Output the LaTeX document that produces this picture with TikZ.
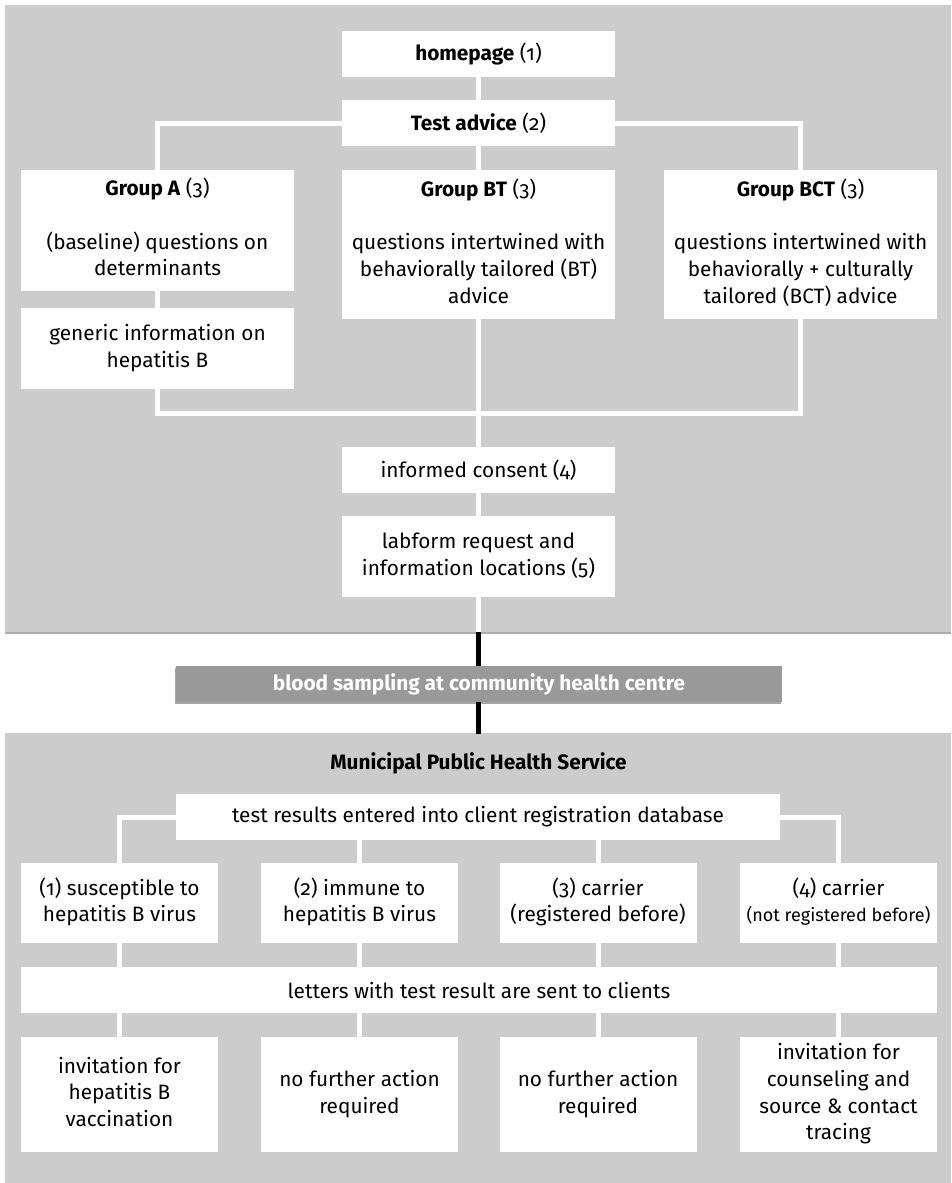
\documentclass[tikz,border=0pt]{standalone}
\usepackage{fontspec}
\setmainfont{Fira Sans}[Numbers=OldStyle]
\usetikzlibrary{shadows}
\definecolor{panelgray}{HTML}{CCCCCC}
\definecolor{bargray}{HTML}{999999}
\definecolor{shadowgray}{HTML}{ADADAD}
\tikzset{
  panel/.style={fill=panelgray, draw=none, inner sep=0pt, anchor=north west},
  box/.style={fill=white, draw=none, inner sep=0pt, align=center, text=black,
    font=\fontsize{20.8}{26.7}\selectfont},
  wline/.style={draw=white, line width=5pt},
  bline/.style={draw=black, line width=5pt},
  bar/.style={fill=bargray, draw=none, inner sep=0pt, text=white,
    font=\fontsize{20.8}{26.7}\selectfont\bfseries,
    drop shadow={shadow xshift=-1pt, shadow yshift=-1.5pt, opacity=0.35, fill=black}},
  title/.style={inner sep=0pt, font=\fontsize{20.8}{26.7}\selectfont\bfseries}
}
\begin{document}
\begin{tikzpicture}[x=1pt, y=-1pt]
\useasboundingbox (0,0) rectangle (951,1183);
\fill[white] (0,0) rectangle (951,1183);

% panels
\fill[shadowgray] (5,5) rectangle (951,634);
\node[panel, minimum width=946pt, minimum height=627pt] (toppanel) at (5,5) {};
\fill[shadowgray!60] (5,733) rectangle (951,1183);
\node[panel, minimum width=946pt, minimum height=452pt] (botpanel) at (5,734) {};

% upper nodes
\node[box, minimum width=273pt, minimum height=46pt] (home) at (478.5,54) {\textbf{homepage} (1)};
\node[box, minimum width=273pt, minimum height=46pt] (advice) at (478.5,123) {\textbf{Test advice} (2)};
\node[box, minimum width=273pt, minimum height=121pt] (ga) at (157.5,230.5)
  {\strut\textbf{Group A} (3)\\[26.7pt]\strut(baseline) questions on\\\strut determinants};
\node[box, minimum width=273pt, minimum height=149pt] (gbt) at (478.5,244.5)
  {\strut\textbf{Group BT} (3)\\[26.7pt]\strut questions intertwined with\\\strut behaviorally tailored (BT)\\\strut advice};
\node[box, minimum width=273pt, minimum height=149pt] (gbct) at (800.5,244.5)
  {\strut\textbf{Group BCT} (3)\\[26.7pt]\strut questions intertwined with\\\strut behaviorally + culturally\\\strut tailored (BCT) advice};
\node[box, minimum width=273pt, minimum height=81pt] (generic) at (157.5,348.5)
  {\strut generic information on\\\strut hepatitis B};
\node[box, minimum width=273pt, minimum height=46pt] (consent) at (478.5,470) {informed consent (4)};
\node[box, minimum width=273pt, minimum height=81pt] (labform) at (478.5,556.5)
  {\strut labform request and\\\strut information locations (5)};
\coordinate (join) at (478.5,413);

% upper connectors
\draw[wline] (home) -- (advice);
\draw[wline] (advice.west) -| (ga.north);
\draw[wline] (advice.east) -| (gbct.north);
\draw[wline] (advice) -- (gbt);
\draw[wline] (ga) -- (generic);
\draw[wline] (generic.south) |- (join);
\draw[wline] (gbct.south) |- (join);
\draw[wline] (gbt.south) -- (consent.north);
\draw[wline] (consent) -- (labform);
\draw[wline] (labform.south) -- (labform.south |- toppanel.south);

% blood sampling bar
\node[bar, minimum width=606pt, minimum height=36pt] (blood) at (479,684) {blood sampling at community health centre};
\draw[bline] (labform.south |- toppanel.south) -- (labform.south |- blood.north);
\draw[bline] (labform.south |- blood.south) -- (labform.south |- botpanel.north);

% lower part
\node[title] (mphs) at (478.5,763) {Municipal Public Health Service};
\node[box, minimum width=604pt, minimum height=46pt] (results) at (478,817) {test results entered into client registration database};
\node[box, minimum width=197pt, minimum height=80pt] (r1) at (119.5,903) {\strut(1) susceptible to\\\strut hepatitis B virus};
\node[box, minimum width=197pt, minimum height=80pt] (r2) at (359.5,903) {\strut(2) immune to\\\strut hepatitis B virus};
\node[box, minimum width=197pt, minimum height=80pt] (r3) at (598,903) {\strut(3) carrier\\\strut(registered before)};
\node[box, minimum width=197pt, minimum height=80pt] (r4) at (838.5,903) {\strut(4) carrier\\\strut{\fontsize{18}{26.7}\selectfont(not registered before)}};
\node[box, minimum width=916pt, minimum height=46pt] (letters) at (479,990) {letters with test result are sent to clients};
\node[box, minimum width=197pt, minimum height=115pt] (a1) at (119.5,1094.5) {\strut invitation for\\\strut hepatitis B\\\strut vaccination};
\node[box, minimum width=197pt, minimum height=115pt] (a2) at (359.5,1094.5) {\strut no further action\\\strut required};
\node[box, minimum width=197pt, minimum height=115pt] (a3) at (598,1094.5) {\strut no further action\\\strut required};
\node[box, minimum width=197pt, minimum height=115pt] (a4) at (838.5,1094.5) {\strut invitation for\\\strut counseling and\\\strut source \& contact\\\strut tracing};

% lower connectors
\draw[wline] (results.west) -| (r1.north);
\draw[wline] (results.east) -| (r4.north);
\draw[wline] (r2.north) -- (r2.north |- results.south);
\draw[wline] (r3.north) -- (r3.north |- results.south);
\foreach \n in {1,2,3,4}{
  \draw[wline] (r\n.south) -- (r\n.south |- letters.north);
  \draw[wline] (a\n.north) -- (a\n.north |- letters.south);
}
\end{tikzpicture}
\end{document}
